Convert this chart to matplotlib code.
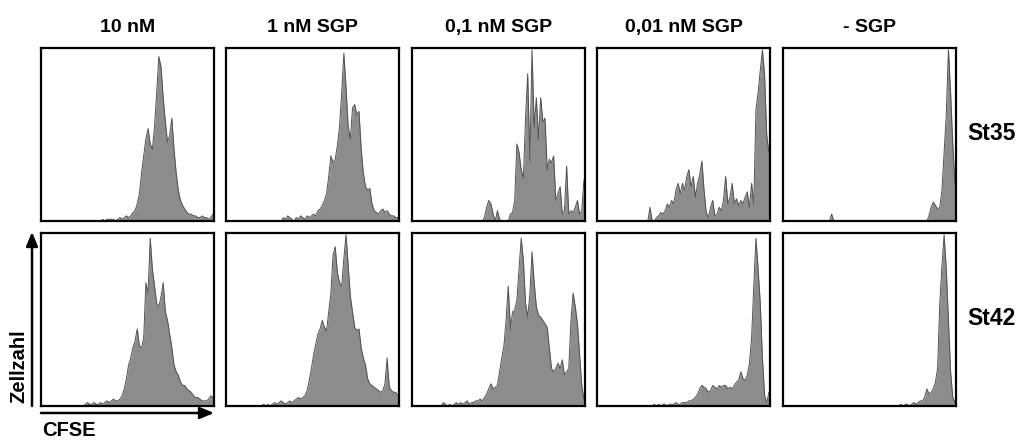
import matplotlib
matplotlib.use("Agg")
import matplotlib.pyplot as plt
from matplotlib.patches import FancyArrowPatch
import numpy as np

# CFSE dilution histograms, 80 channels per panel, relative cell counts (%)
conditions = ["10 nM", "1 nM SGP", "0,1 nM SGP", "0,01 nM SGP", "- SGP"]
strains = ["St35", "St42"]

st35_10nM = [0]*28 + [1, 0, 1, 1, 1, 1, 0, 1, 2, 1, 2, 3, 2, 3, 5,
    6, 10, 16, 28, 38, 48, 54, 45, 42, 55, 75, 96, 90, 72, 58, 46, 50, 60, 42, 28,
    18, 12, 9, 7, 5, 4, 4, 3, 3, 2, 2, 3, 2, 2, 1, 2, 4]
st35_1nM = [0]*26 + [2, 1, 3, 2, 1, 0, 2, 1, 3, 2, 1, 3, 2, 3, 4, 3,
    6, 7, 9, 12, 16, 26, 38, 34, 36, 44, 55, 75, 98, 78, 55, 48, 66, 68, 62, 64,
    42, 28, 20, 18, 19, 10, 6, 5, 4, 6, 7, 5, 6, 4, 3, 3, 2, 2]
st35_01nM = [0]*33 + [2, 8, 12, 10, 4, 0, 6, 1, 0, 0, 0, 0, 4, 5, 12, 45, 40, 30,
    25, 60, 86, 35, 100, 55, 72, 48, 72, 58, 60, 30, 36, 34, 38, 12, 16, 20, 4, 6,
    32, 4, 6, 5, 8, 12, 4, 6, 24]
st35_001nM = [0]*24 + [8, 0, 0, 2, 3, 5, 4, 6, 10, 8, 12, 10, 18, 22, 16, 22, 18,
    26, 30, 20, 26, 14, 22, 27, 35, 18, 5, 2, 8, 12, 3, 4, 8, 6, 12, 26, 10, 14, 22,
    10, 13, 9, 12, 10, 14, 17, 8, 22, 10, 65, 75, 88, 100, 85, 50, 40]
st35_none = [0]*22 + [4] + [0]*44 + [3, 8, 11, 9, 7, 8, 18, 40, 62, 100, 75, 45, 22]

st42_10nM = [0]*20 + [1, 2, 1, 1, 2, 1, 1, 2, 1, 2, 3, 2, 3, 4, 3, 3, 4, 6, 10, 16,
    24, 28, 34, 38, 45, 35, 34, 40, 72, 66, 98, 80, 70, 60, 58, 64, 72, 55, 50, 42,
    34, 24, 20, 18, 14, 12, 12, 10, 9, 8, 6, 5, 5, 4, 3, 3, 3, 4, 6, 5]
st42_1nM = [0]*17 + [1, 0, 1, 0, 1, 2, 1, 2, 3, 2, 1, 2, 3, 2, 3, 4, 5, 4, 5, 6, 9,
    15, 22, 30, 36, 42, 45, 50, 46, 44, 55, 66, 88, 93, 78, 72, 70, 86, 100, 82, 64,
    55, 46, 44, 45, 34, 28, 24, 16, 13, 12, 11, 10, 9, 8, 9, 13, 28, 11, 9, 8, 8, 6]
st42_01nM = [0]*14 + [2, 1, 0, 1, 0, 1, 2, 1, 2, 1, 2, 3, 1, 2, 2, 3, 3, 4, 3, 5, 7,
    10, 13, 10, 11, 12, 20, 28, 35, 50, 70, 45, 55, 56, 62, 80, 98, 85, 60, 52, 65,
    90, 72, 58, 53, 52, 50, 48, 46, 34, 22, 20, 22, 25, 22, 27, 18, 20, 22, 50, 66,
    58, 48, 30, 12, 4]
st42_001nM = [0]*26 + [1, 0, 1, 0, 1, 1, 0, 1, 1, 1, 2, 1, 1, 2, 2, 2, 3, 3, 4, 5, 7,
    10, 12, 11, 10, 8, 9, 12, 11, 10, 12, 11, 12, 12, 10, 11, 10, 12, 14, 15, 20, 16,
    15, 18, 25, 40, 70, 98, 80, 60, 28, 6, 2, 8]
st42_none = [0]*54 + [1, 0, 1, 1, 0, 1, 2, 1, 2, 3, 3, 5, 10, 7, 8, 10, 14, 22, 60,
    82, 100, 80, 50, 20, 5, 2]

panels = [
    [st35_10nM, st35_1nM, st35_01nM, st35_001nM, st35_none],
    [st42_10nM, st42_1nM, st42_01nM, st42_001nM, st42_none],
]

W, H = 1021, 442
fig = plt.figure(figsize=(W / 100, H / 100), dpi=100)

col_left = [41, 226, 412, 597, 783]
row_top = [48, 233]
pw, ph = 173, 173

bold = dict(family=["Liberation Sans", "DejaVu Sans"], weight="bold")

for r, row in enumerate(panels):
    for c, counts in enumerate(row):
        x0 = col_left[c] / W
        y0 = 1 - (row_top[r] + ph) / H
        ax = fig.add_axes([x0, y0, pw / W, ph / H])
        vals = np.asarray(counts, dtype=float)
        n = len(vals)
        x = np.concatenate([[0], np.arange(n) + 0.5, [n]])
        y = np.concatenate([[0], vals, [vals[-1]]])
        ax.fill_between(x, 0, y, color="#8c8c8c", linewidth=0)
        ax.plot(x, y, color="#505050", linewidth=0.7)
        ax.set_xlim(0, n)
        ax.set_ylim(0, 101)
        ax.set_xticks([])
        ax.set_yticks([])
        for s in ax.spines.values():
            s.set_linewidth(1.6)
            s.set_color("black")
            s.set_zorder(5)
        if r == 0:
            ax.set_title(conditions[c], fontsize=14, pad=11.5, **bold)

# strain labels on the right
for r, name in enumerate(strains):
    yc = 1 - (row_top[r] + ph / 2 - 1) / H
    fig.text(967 / W, yc, name, fontsize=16.5, ha="left", va="center", **bold)

# axis arrows
arrow_kw = dict(arrowstyle="-|>,head_length=0.6,head_width=0.25", color="black",
                lw=1.8, shrinkA=0, shrinkB=0, mutation_scale=14,
                transform=fig.transFigure)
fig.add_artist(FancyArrowPatch((32 / W, 1 - 406 / H), (32 / W, 1 - 232 / H), **arrow_kw))
fig.add_artist(FancyArrowPatch((41 / W, 1 - 413 / H), (214 / W, 1 - 413 / H), **arrow_kw))

fig.text(18.5 / W, 1 - 366 / H, "Zellzahl", rotation=90, fontsize=14.5, ha="center",
         va="center", **bold)
fig.text(42 / W, 1 - 430 / H, "CFSE", fontsize=14.5, ha="left", va="center", **bold)

fig.savefig("out.png", dpi=100)
